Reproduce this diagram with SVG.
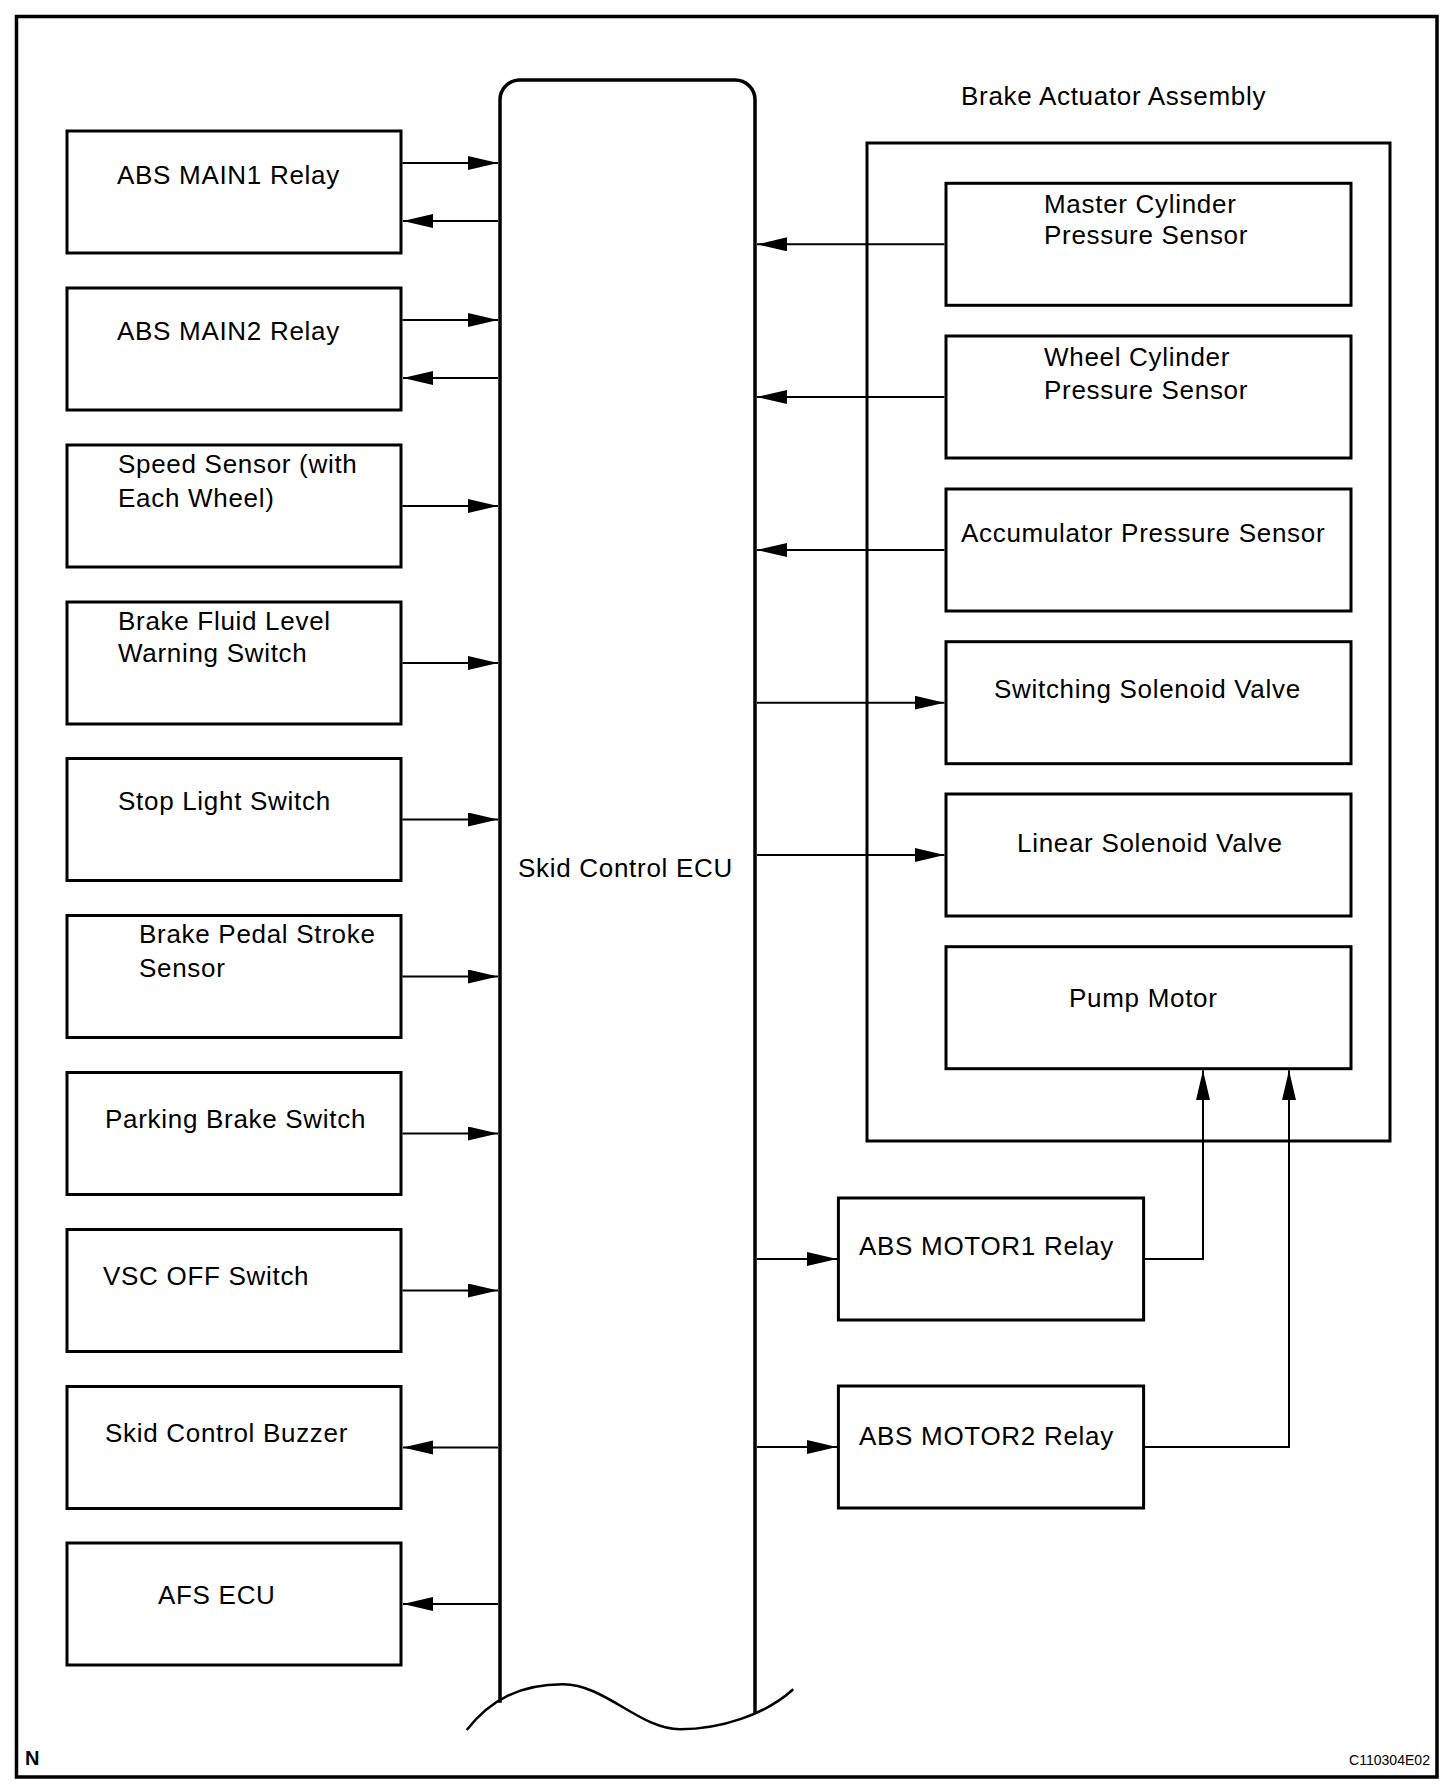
<svg xmlns="http://www.w3.org/2000/svg" width="1456" height="1792" viewBox="0 0 1456 1792">
<style>
.box{fill:#fff;stroke:#000;stroke-width:3}
.con{fill:none;stroke:#000;stroke-width:2}
text{font-family:"Liberation Sans",Arial,sans-serif;font-size:26px;letter-spacing:0.7px;fill:#000}
</style>
<defs>
<marker id="ah" markerUnits="userSpaceOnUse" markerWidth="31" markerHeight="15" refX="30" refY="7" orient="auto">
<path d="M0,0 L30,7 L0,14 z" fill="#000"/>
</marker>
</defs>
<rect width="1456" height="1792" fill="#fff"/>
<rect x="16.5" y="16.5" width="1420.5" height="1760.5" fill="none" stroke="#000" stroke-width="3.5"/>

<g id="ecu">
<path d="M500,1702.7 L500,100 A20,20 0 0 1 520,80 L735,80 A20,20 0 0 1 755,100 L755,1714" fill="none" stroke="#000" stroke-width="3.5"/>
<path d="M466.7,1730 C490,1700 520,1684.3 563,1684.3 C605,1684.3 640,1729.3 680,1729.3 C720,1729.3 765,1715 793.3,1689.3" fill="none" stroke="#000" stroke-width="2.5"/>
<text x="518" y="877">Skid Control ECU</text>
</g>

<g id="actuator">
<rect x="867" y="143" width="523" height="998" fill="none" stroke="#000" stroke-width="3"/>
<text x="961" y="105">Brake Actuator Assembly</text>
</g>

<g id="abs-main1"><rect class="box" x="67" y="131" width="334" height="122"/><text x="117" y="184">ABS MAIN1 Relay</text></g>
<g id="abs-main2"><rect class="box" x="67" y="288" width="334" height="122"/><text x="117" y="340">ABS MAIN2 Relay</text></g>
<g id="speed-sensor"><rect class="box" x="67" y="445" width="334" height="122"/><text x="118" y="473">Speed Sensor (with</text><text x="118" y="507">Each Wheel)</text></g>
<g id="brake-fluid"><rect class="box" x="67" y="602" width="334" height="122"/><text x="118" y="630">Brake Fluid Level</text><text x="118" y="662">Warning Switch</text></g>
<g id="stop-light"><rect class="box" x="67" y="758.5" width="334" height="122"/><text x="118" y="810">Stop Light Switch</text></g>
<g id="brake-pedal"><rect class="box" x="67" y="915.5" width="334" height="122"/><text x="139" y="943">Brake Pedal Stroke</text><text x="139" y="977">Sensor</text></g>
<g id="parking-brake"><rect class="box" x="67" y="1072.5" width="334" height="122"/><text x="105" y="1128">Parking Brake Switch</text></g>
<g id="vsc-off"><rect class="box" x="67" y="1229.5" width="334" height="122"/><text x="103" y="1285">VSC OFF Switch</text></g>
<g id="buzzer"><rect class="box" x="67" y="1386.5" width="334" height="122"/><text x="105" y="1442">Skid Control Buzzer</text></g>
<g id="afs-ecu"><rect class="box" x="67" y="1543" width="334" height="122"/><text x="158" y="1604">AFS ECU</text></g>

<g id="master-cyl"><rect class="box" x="946" y="183.3" width="405" height="122"/><text x="1044" y="213">Master Cylinder</text><text x="1044" y="244">Pressure Sensor</text></g>
<g id="wheel-cyl"><rect class="box" x="946" y="336" width="405" height="122"/><text x="1044" y="366">Wheel Cylinder</text><text x="1044" y="399">Pressure Sensor</text></g>
<g id="accumulator"><rect class="box" x="946" y="489" width="405" height="122"/><text x="961" y="542">Accumulator Pressure Sensor</text></g>
<g id="switching"><rect class="box" x="946" y="641.7" width="405" height="122"/><text x="994" y="698">Switching Solenoid Valve</text></g>
<g id="linear"><rect class="box" x="946" y="794" width="405" height="122"/><text x="1017" y="852">Linear Solenoid Valve</text></g>
<g id="pump-motor"><rect class="box" x="946" y="946.7" width="405" height="122"/><text x="1069" y="1007">Pump Motor</text></g>

<g id="abs-motor1"><rect class="box" x="838.4" y="1198" width="305.2" height="122"/><text x="859" y="1255">ABS MOTOR1 Relay</text></g>
<g id="abs-motor2"><rect class="box" x="838.4" y="1386" width="305.2" height="122"/><text x="859" y="1445">ABS MOTOR2 Relay</text></g>

<g id="connectors" class="con">
<line class="con" x1="402.5" y1="163" x2="498" y2="163" marker-end="url(#ah)"/>
<line class="con" x1="498" y1="221" x2="403" y2="221" marker-end="url(#ah)"/>
<line class="con" x1="402.5" y1="320" x2="498" y2="320" marker-end="url(#ah)"/>
<line class="con" x1="498" y1="378" x2="403" y2="378" marker-end="url(#ah)"/>
<line class="con" x1="402.5" y1="506" x2="498" y2="506" marker-end="url(#ah)"/>
<line class="con" x1="402.5" y1="663" x2="498" y2="663" marker-end="url(#ah)"/>
<line class="con" x1="402.5" y1="819.5" x2="498" y2="819.5" marker-end="url(#ah)"/>
<line class="con" x1="402.5" y1="976.5" x2="498" y2="976.5" marker-end="url(#ah)"/>
<line class="con" x1="402.5" y1="1133.5" x2="498" y2="1133.5" marker-end="url(#ah)"/>
<line class="con" x1="402.5" y1="1290.5" x2="498" y2="1290.5" marker-end="url(#ah)"/>
<line class="con" x1="498" y1="1447.5" x2="403" y2="1447.5" marker-end="url(#ah)"/>
<line class="con" x1="498" y1="1604" x2="403" y2="1604" marker-end="url(#ah)"/>
<line class="con" x1="944.5" y1="244.3" x2="757" y2="244.3" marker-end="url(#ah)"/>
<line class="con" x1="944.5" y1="397" x2="757" y2="397" marker-end="url(#ah)"/>
<line class="con" x1="944.5" y1="550" x2="757" y2="550" marker-end="url(#ah)"/>
<line class="con" x1="757" y1="702.7" x2="944.5" y2="702.7" marker-end="url(#ah)"/>
<line class="con" x1="757" y1="855" x2="944.5" y2="855" marker-end="url(#ah)"/>
<line class="con" x1="757" y1="1259" x2="837" y2="1259" marker-end="url(#ah)"/>
<line class="con" x1="757" y1="1447" x2="837" y2="1447" marker-end="url(#ah)"/>
<polyline class="con" points="1145,1259 1203,1259 1203,1070.2" marker-end="url(#ah)"/>
<polyline class="con" points="1145,1447 1289,1447 1289,1070.2" marker-end="url(#ah)"/>
</g>

<text x="25" y="1765" style="font-size:20px;font-weight:bold;letter-spacing:0">N</text>
<text x="1349" y="1765" style="font-size:15px;letter-spacing:0" textLength="81" lengthAdjust="spacingAndGlyphs">C110304E02</text>
</svg>
